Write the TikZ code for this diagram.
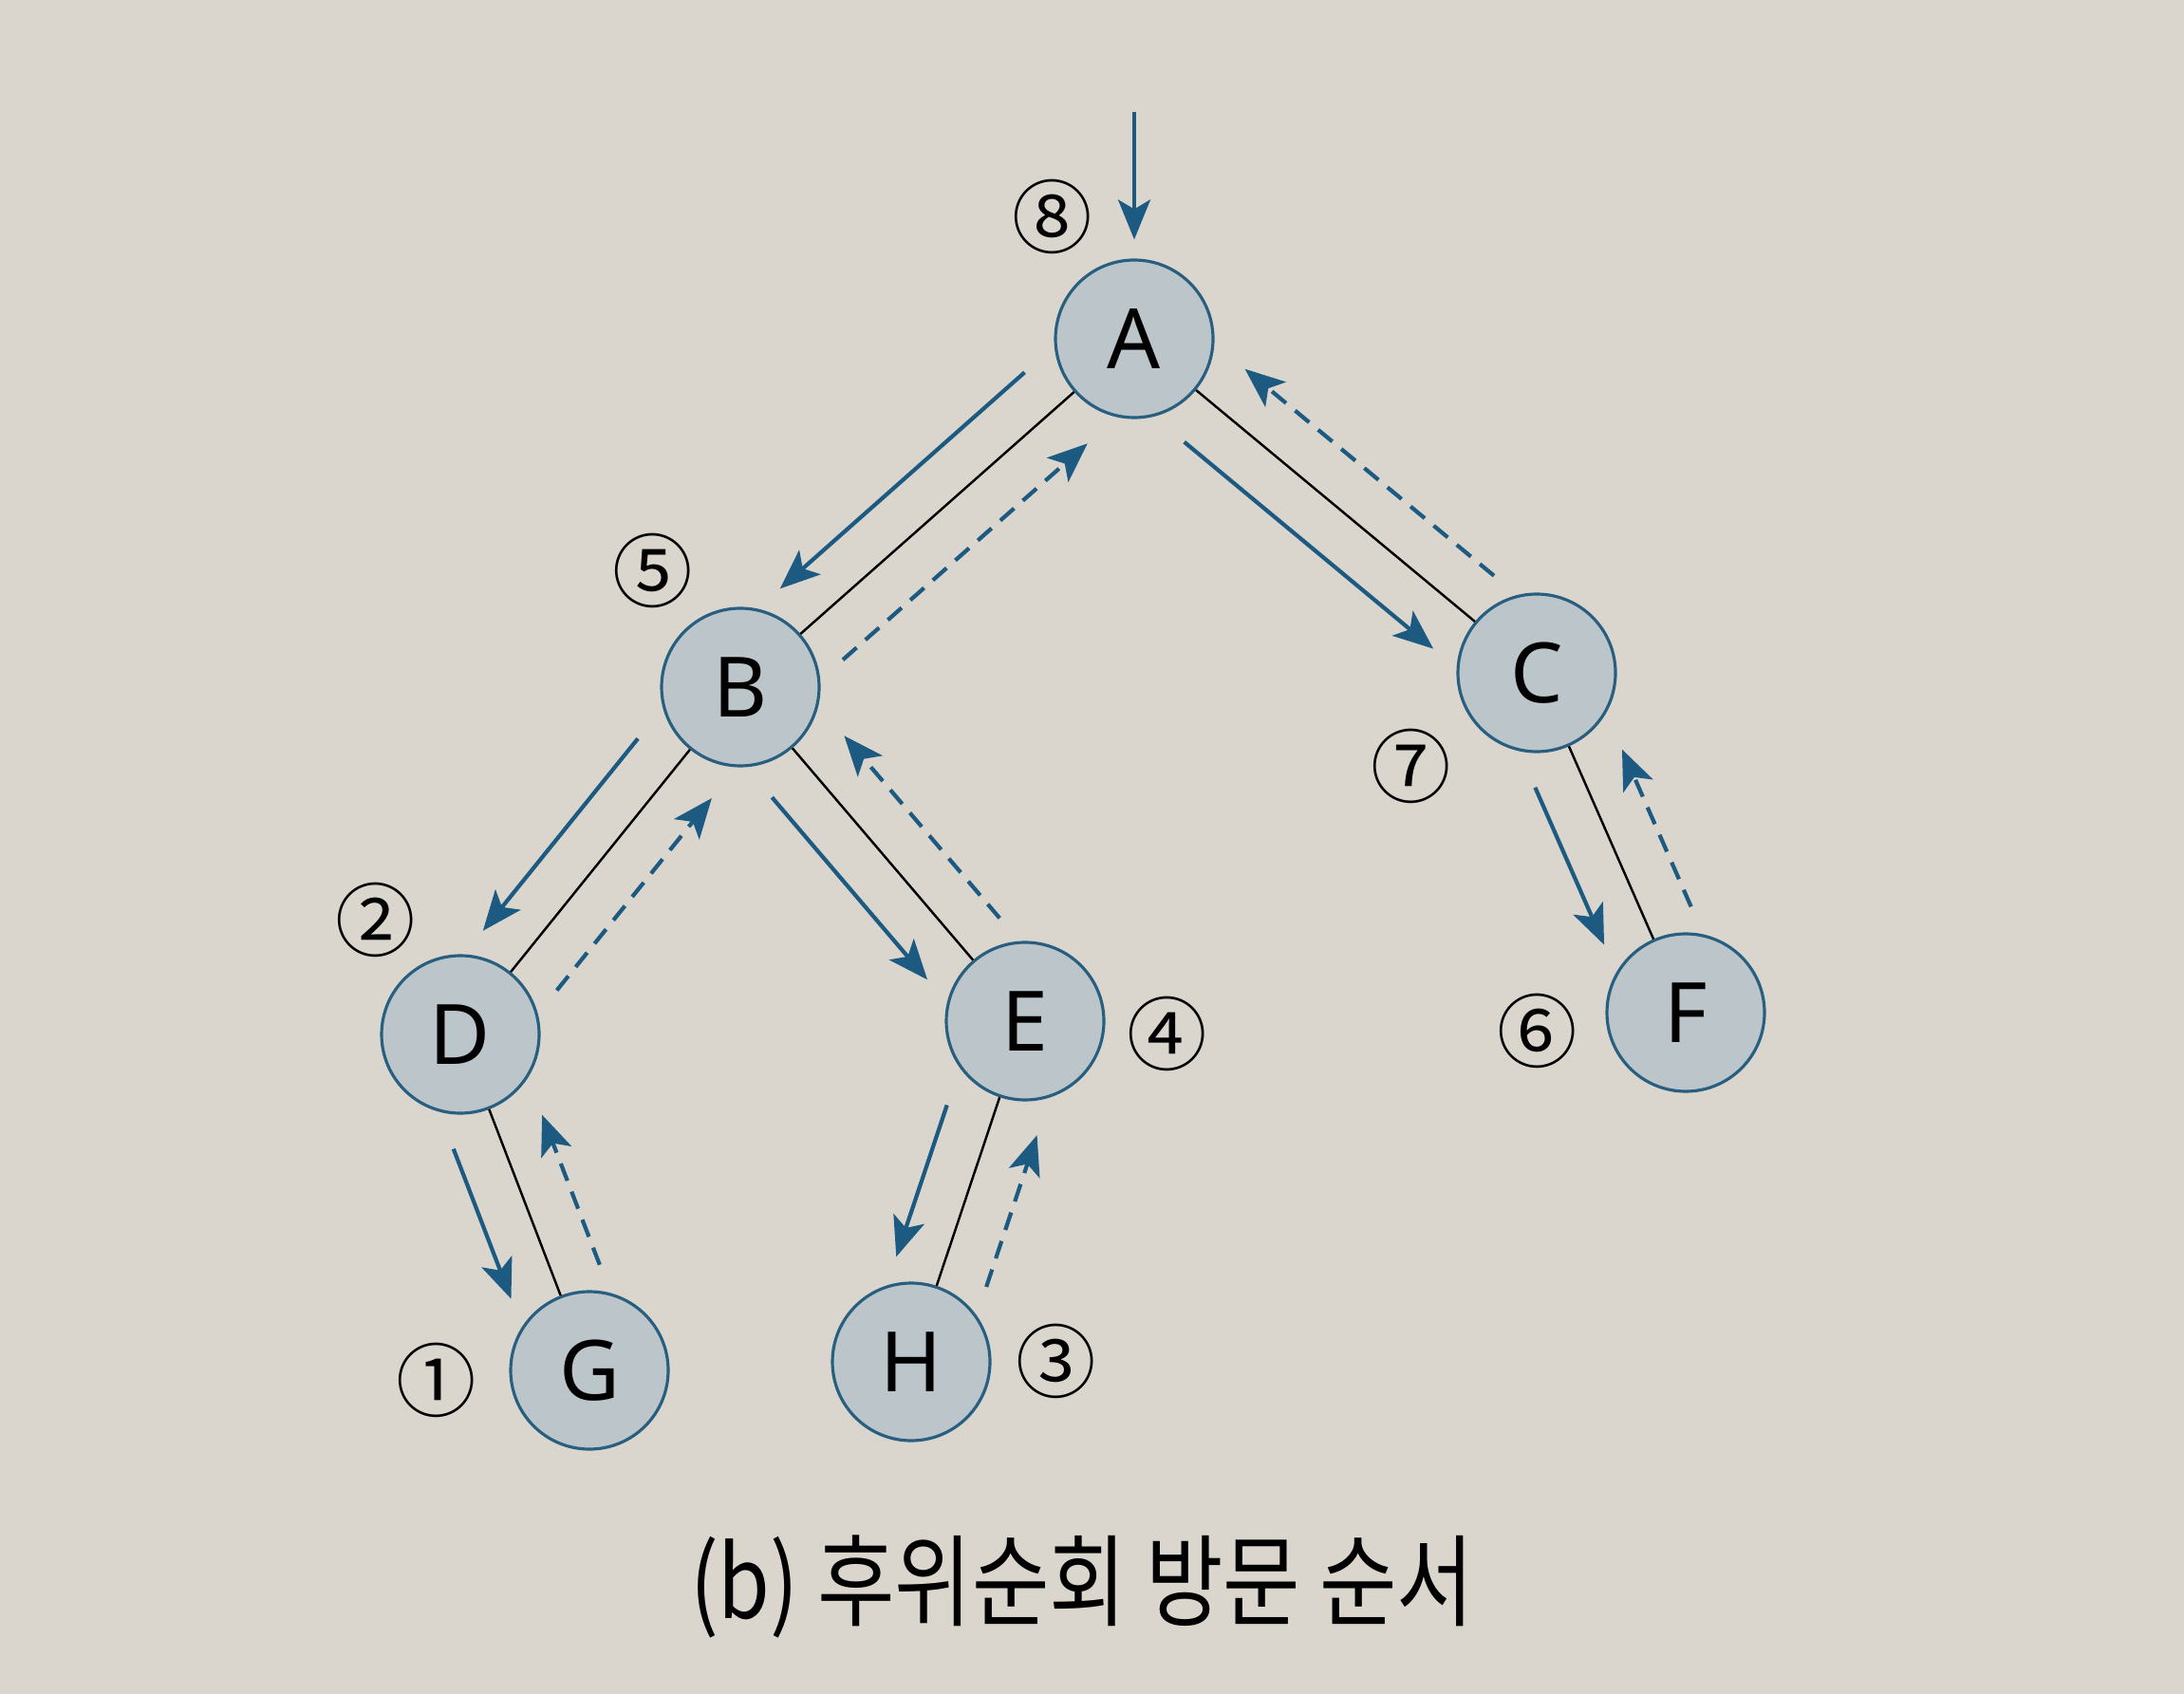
\documentclass[tikz,border=0pt]{standalone}
\usepackage{fontspec}
\newfontfamily\letterfont{Noto Sans}
\newfontfamily\numfont{Noto Sans CJK KR}
\newfontfamily\capfont[FakeStretch=0.84]{Noto Sans CJK KR}
\usetikzlibrary{arrows.meta, calc}
\definecolor{paper}{RGB}{218,214,206}
\definecolor{nodefill}{RGB}{188,197,201}
\definecolor{nodeedge}{RGB}{40,95,128}
\definecolor{arrowblue}{RGB}{28,90,130}
\begin{document}
\begin{tikzpicture}[
  vertex/.style={draw=nodeedge, line width=0.9pt, circle, minimum size=1.66cm, inner sep=0pt, fill=nodefill, font=\letterfont\fontsize{25}{25}\selectfont},
  order_lbl/.style={font=\numfont\fontsize{24}{24}\selectfont, inner sep=0pt},
  tree_edge/.style={line width=0.7pt, black},
  visit_arr/.style={arrowblue, line width=1.2pt, -{Stealth[length=4.2mm, width=3.4mm, inset=1mm]}},
  return_arr/.style={visit_arr, dash pattern=on 5.5pt off 3.5pt},
  caption/.style={font=\capfont\fontsize{30}{30}\selectfont, inner sep=0pt},
]
% page
\fill[paper] (0,0) rectangle (23.01,-17.85);
% tree
\node[vertex] (A) at (11.95,-3.57) {A};
\node[vertex] (B) at (7.80,-7.24) {B};
\node[vertex] (C) at (16.19,-7.09) {C};
\node[vertex] (D) at (4.85,-10.90) {D};
\node[vertex] (E) at (10.80,-10.76) {E};
\node[vertex] (F) at (17.76,-10.67) {F};
\node[vertex] (G) at (6.21,-14.44) {G};
\node[vertex] (H) at (9.60,-14.35) {H};
\coordinate (entry) at (11.95,-1.18);
\draw[tree_edge] (A) -- (B);
\draw[tree_edge] (A) -- (C);
\draw[tree_edge] (B) -- (D);
\draw[tree_edge] (B) -- (E);
\draw[tree_edge] (C) -- (F);
\draw[tree_edge] (D) -- (G);
\draw[tree_edge] (E) -- (H);
% visiting order
\node[order_lbl] (n8) at (11.09,-2.28) {⑧};
\node[order_lbl] (n5) at (6.88,-6.01) {⑤};
\node[order_lbl] (n7) at (14.87,-8.07) {⑦};
\node[order_lbl] (n2) at (3.96,-9.69) {②};
\node[order_lbl] (n4) at (12.30,-10.89) {④};
\node[order_lbl] (n6) at (16.20,-10.86) {⑥};
\node[order_lbl] (n1) at (4.60,-14.54) {①};
\node[order_lbl] (n3) at (11.13,-14.34) {③};
% traversal arrows
\draw[visit_arr, shorten >=0.2cm] (entry) -- (A);
\draw[visit_arr] ($(A)!1.1cm!(B)!0.5cm!-90:(B)$) -- ($(B)!1.0cm!(A)!0.5cm!90:(A)$);
\draw[return_arr] ($(B)!1.0cm!(A)!0.5cm!-90:(A)$) -- ($(A)!1.1cm!(B)!0.5cm!90:(B)$);
\draw[visit_arr] ($(A)!1.1cm!(C)!0.5cm!-90:(C)$) -- ($(C)!1.0cm!(A)!0.5cm!90:(A)$);
\draw[return_arr] ($(C)!1.0cm!(A)!0.5cm!-90:(A)$) -- ($(A)!1.1cm!(C)!0.5cm!90:(C)$);
\draw[visit_arr] ($(B)!1.1cm!(D)!0.5cm!-90:(D)$) -- ($(D)!1.0cm!(B)!0.5cm!90:(B)$);
\draw[return_arr] ($(D)!1.0cm!(B)!0.5cm!-90:(B)$) -- ($(B)!1.1cm!(D)!0.5cm!90:(D)$);
\draw[visit_arr] ($(B)!1.1cm!(E)!0.5cm!-90:(E)$) -- ($(E)!1.0cm!(B)!0.5cm!90:(B)$);
\draw[return_arr] ($(E)!1.0cm!(B)!0.5cm!-90:(B)$) -- ($(B)!1.1cm!(E)!0.5cm!90:(E)$);
\draw[visit_arr] ($(C)!1.1cm!(F)!0.5cm!-90:(F)$) -- ($(F)!1.0cm!(C)!0.5cm!90:(C)$);
\draw[return_arr] ($(F)!1.0cm!(C)!0.5cm!-90:(C)$) -- ($(C)!1.1cm!(F)!0.5cm!90:(F)$);
\draw[visit_arr] ($(D)!1.1cm!(G)!0.5cm!-90:(G)$) -- ($(G)!1.0cm!(D)!0.5cm!90:(D)$);
\draw[return_arr] ($(G)!1.0cm!(D)!0.5cm!-90:(D)$) -- ($(D)!1.1cm!(G)!0.5cm!90:(G)$);
\draw[visit_arr] ($(E)!1.1cm!(H)!0.5cm!-90:(H)$) -- ($(H)!1.0cm!(E)!0.5cm!90:(E)$);
\draw[return_arr] ($(H)!1.0cm!(E)!0.5cm!-90:(E)$) -- ($(E)!1.1cm!(H)!0.5cm!90:(H)$);
% caption
\node[caption] (cap) at (11.40,-16.72) {(b) 후위순회 방문 순서};
\end{tikzpicture}
\end{document}
